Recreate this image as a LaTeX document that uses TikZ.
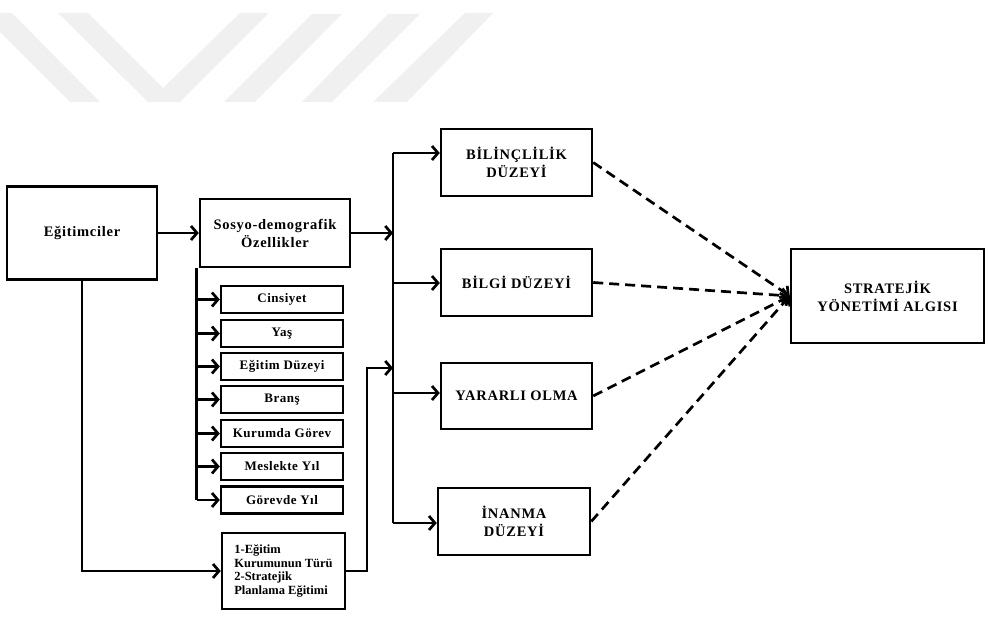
\documentclass[tikz,border=0pt]{standalone}
\usepackage{fontspec}
\setmainfont{Liberation Serif}
\newfontfamily\spc{Liberation Serif}[LetterSpace=5]
\newfontfamily\spcs{Liberation Serif}[LetterSpace=4]
\usetikzlibrary{arrows.meta}
\definecolor{wm}{RGB}{240,240,240}
\tikzset{
  bigbox/.style={draw, line width=2.5pt, inner sep=0pt, align=center,
    font=\spc\bfseries\fontsize{14.5}{18}\selectfont},
  smallbox/.style={draw, line width=2.5pt, inner sep=0pt, align=center,
    minimum width=122pt, minimum height=27pt,
    font=\spcs\bfseries\fontsize{13}{14}\selectfont},
  conn/.style={line width=2.7pt, -{Straight Barb[length=6pt,width=14pt,line width=2.7pt]}},
  plain/.style={line width=2.7pt},
  dconn/.style={line width=2.7pt, dash pattern=on 10pt off 6pt,
    -{Straight Barb[length=6pt,width=14pt,line width=2.7pt]}}
}
\begin{document}
\begin{tikzpicture}[x=1pt,y=-1pt]
\useasboundingbox (0,0) rectangle (988,617);
% watermark
\fill[wm] (0,13) -- (12,13) -- (100,102) -- (70,102) -- (0,32) -- cycle;
\fill[wm] (58,13) -- (88,13) -- (163,88) -- (240,13) -- (269,13) -- (180,102) -- (148,102) -- cycle;
\fill[wm] (312,14) -- (342,14) -- (255,102) -- (224,102) -- cycle;
\fill[wm] (388,14) -- (420,14) -- (332,102) -- (302,102) -- cycle;
\fill[wm] (465,13) -- (493,13) -- (407,102) -- (373,102) -- cycle;

% main boxes
\node[bigbox, minimum width=150pt, minimum height=93pt] (egit) at (82,233) {Eğitimciler};
\node[bigbox, minimum width=150pt, minimum height=68pt] (sosyo) at (275,233) {Sosyo-demografik\\Özellikler};
\node[bigbox, minimum width=151pt, minimum height=67pt] (bilinc) at (516.5,162.5) {BİLİNÇLİLİK\\DÜZEYİ};
\node[bigbox, minimum width=151pt, minimum height=67pt] (bilgi) at (516.5,282.5) {BİLGİ DÜZEYİ};
\node[bigbox, minimum width=151pt, minimum height=66pt] (yarar) at (516.5,396) {YARARLI OLMA};
\node[bigbox, minimum width=152pt, minimum height=67pt] (inanma) at (514,521.5) {İNANMA\\DÜZEYİ};
\node[bigbox, minimum width=193pt, minimum height=94pt] (strat) at (887.5,296) {STRATEJİK\\YÖNETİMİ ALGISI};

% small boxes
\node[smallbox] (g1) at (282,299.5) {Cinsiyet};
\node[smallbox] (g2) at (282,333.5) {Yaş};
\node[smallbox] (g3) at (282,366.5) {Eğitim Düzeyi};
\node[smallbox] (g4) at (282,399.5) {Branş};
\node[smallbox] (g5) at (282,433.5) {Kurumda Görev};
\node[smallbox] (g6) at (282,466.5) {Meslekte Yıl};
\node[smallbox] (g7) at (282,500) {Görevde Yıl};

\node[draw, line width=2.5pt, minimum width=123pt, minimum height=76pt, inner sep=0pt,
  align=left, font=\bfseries\fontsize{12.5}{13.8}\selectfont] (bot) at (283.5,571)
  {1-Eğitim\\Kurumunun Türü\\2-Stratejik\\Planlama Eğitimi};

% connectors
\draw[conn] (egit.east) -- (sosyo.west);
\coordinate (bus) at (393,233);
\coordinate (bt) at (393,153);
\coordinate (bb) at (393,523);
\coordinate (b2) at (393,283);
\coordinate (b3) at (393,393);
\coordinate (bin) at (393,368);
\draw[conn] (sosyo.east) -- (bus);
\draw[plain] (bt) -- (bb);
\draw[conn] (bt) -- (bt -| bilinc.west);
\draw[conn] (b2) -- (b2 -| bilgi.west);
\draw[conn] (b3) -- (b3 -| yarar.west);
\draw[conn] (bb) -- (bb -| inanma.west);

\coordinate (sb) at ([xshift=-2pt]sosyo.south west);
\draw[plain] (sb) -- (sb |- g7.west);
\foreach \g in {g1,g2,g3,g4,g5,g6,g7}{
  \draw[conn] (sb |- \g.west) -- (\g.west);
}
\draw[conn] (egit.south) |- (bot.west);
\coordinate (up) at (367,368);
\draw[conn] (bot.east) -| (up) -- (bin);

\draw[dconn] (bilinc.east) -- (strat.west);
\draw[dconn] (bilgi.east) -- (strat.west);
\draw[dconn] (yarar.east) -- (strat.west);
\draw[dconn] (inanma.east) -- (strat.west);
\end{tikzpicture}
\end{document}
